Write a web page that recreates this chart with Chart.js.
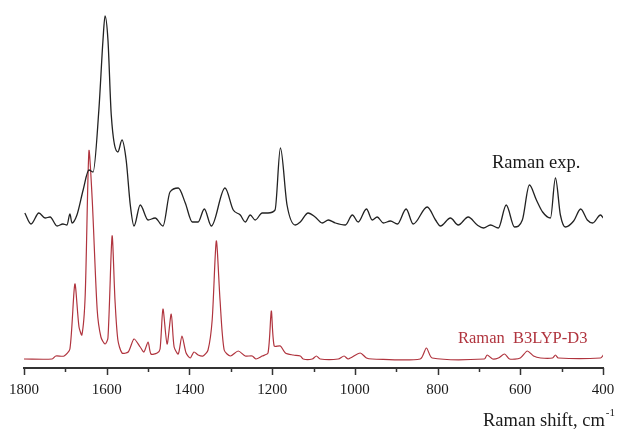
<!DOCTYPE html>
<html>
<head>
<meta charset="utf-8">
<script src="https://cdn.jsdelivr.net/npm/chart.js@4"></script>
<style>
  html, body { margin: 0; padding: 0; background: #fff; }
  #wrap { width: 617px; height: 429px; }
</style>
</head>
<body>
<div id="wrap"><canvas id="c"></canvas></div>
<script>
// experimental Raman spectrum (offset upward in the figure)
const expShift = [1798, 1783, 1764, 1749, 1737, 1720, 1706, 1696, 1689, 1684, 1672, 1657, 1643, 1633,
  1619, 1609, 1604, 1597, 1589, 1573, 1563, 1553, 1543, 1534, 1519, 1500, 1483, 1464, 1447, 1427,
  1410, 1393, 1379, 1364, 1347, 1314, 1294, 1277, 1265, 1253, 1241, 1224, 1210, 1193, 1180, 1164,
  1144, 1132, 1113, 1096, 1079, 1064, 1047, 1023, 1006, 992, 972, 958, 946, 931, 914, 897, 876, 859,
  825, 805, 793, 769, 750, 726, 704, 689, 672, 653, 634, 614, 595, 578, 561, 546, 527, 515, 503,
  491, 471, 454, 438, 425, 406, 399];
const expIntensity = [155, 144, 155, 150, 151, 142, 144, 143, 154, 145, 153, 178, 198, 196,
  258, 328, 352, 328, 253, 216, 228, 208, 163, 142, 163, 148, 150, 142, 176, 180,
  165, 146, 146, 159, 142, 180, 158, 153, 146, 153, 148, 155, 155, 158, 220, 163,
  143, 146, 155, 151, 145, 148, 145, 143, 153, 146, 159, 148, 151, 145, 147, 144, 159, 144,
  161, 148, 142, 150, 143, 151, 143, 140, 143, 140, 163, 141, 148, 183, 168, 156, 150, 190, 153,
  141, 147, 159, 148, 145, 153, 150];

// calculated Raman spectrum, B3LYP-D3
const calcShift = [1800, 1732, 1723, 1703, 1689, 1677, 1667, 1660, 1652, 1643, 1635, 1623, 1614, 1604,
  1597, 1587, 1580, 1573, 1563, 1548, 1534, 1519, 1510, 1500, 1493, 1478, 1471, 1464, 1454, 1444,
  1437, 1427, 1418, 1408, 1398, 1389, 1379, 1367, 1355, 1345, 1335, 1326, 1316, 1301, 1282, 1265,
  1248, 1239, 1224, 1210, 1202, 1195, 1180, 1168, 1149, 1132, 1125, 1103, 1093, 1084, 1040, 1026,
  1016, 987, 972, 958, 842, 827, 813, 687, 680, 667, 653, 638, 626, 600, 583, 568, 551, 522, 515,
  508, 406, 399];
const calcIntensity = [9, 9, 12, 12, 19, 84, 41, 33, 73, 217, 168, 58, 31, 24,
  30, 132, 68, 28, 15, 16, 29, 21, 16, 26, 14, 15, 19, 59, 24, 54,
  21, 14, 32, 15, 10, 16, 13, 12, 18, 48, 127, 68, 18, 12, 17, 12,
  12, 9, 12, 15, 57, 22, 22, 15, 13, 12, 9, 9, 12, 9, 9, 12,
  9, 15, 10, 9, 9, 20, 10, 9, 13, 9, 10, 14, 9, 10, 17, 12, 10, 10, 13,
  10, 10, 13];

const xTicks = [1800, 1600, 1400, 1200, 1000, 800, 600, 400];

const toPoints = (xs, ys) => xs.map((x, i) => ({ x: x, y: ys[i] }));

const serif = '"Liberation Serif", "DejaVu Serif", serif';

// tick marks (long at labelled values, short in between), and the text labels
const decorations = {
  id: 'decorations',
  afterDraw(chart) {
    const ctx = chart.ctx;
    const xs = chart.scales.x;
    const bottom = chart.chartArea.bottom;
    ctx.save();
    ctx.strokeStyle = '#333';
    ctx.lineWidth = 1.5;
    for (let v = 400; v <= 1800; v += 100) {
      const px = Math.round(xs.getPixelForValue(v)) + 0.5;
      const len = xTicks.includes(v) ? 7 : 4;
      ctx.beginPath();
      ctx.moveTo(px, bottom);
      ctx.lineTo(px, bottom + len);
      ctx.stroke();
    }
    ctx.textBaseline = 'middle';
    ctx.textAlign = 'left';
    ctx.fillStyle = '#1a1a1a';
    ctx.font = '18.5px ' + serif;
    ctx.fillText('Raman exp.', 492, 163);
    ctx.fillStyle = '#b0343e';
    ctx.font = '16.5px ' + serif;
    ctx.fillText('Raman  B3LYP-D3', 458, 339);
    ctx.fillStyle = '#1a1a1a';
    ctx.font = '18.5px ' + serif;
    ctx.textBaseline = 'alphabetic';
    ctx.fillText('Raman shift, cm', 483, 426);
    const w = ctx.measureText('Raman shift, cm').width;
    ctx.font = '11px ' + serif;
    ctx.fillText('-1', 483 + w + 1, 416);
    ctx.restore();
  }
};

new Chart(document.getElementById('c'), {
  type: 'line',
  data: {
    datasets: [
      {
        label: 'Raman exp.',
        data: toPoints(expShift, expIntensity),
        borderColor: '#222',
        borderWidth: 1.3,
        pointRadius: 0,
        tension: 0.4,
        cubicInterpolationMode: 'monotone',
        fill: false
      },
      {
        label: 'Raman B3LYP-D3',
        data: toPoints(calcShift, calcIntensity),
        borderColor: '#b0343e',
        borderWidth: 1.2,
        pointRadius: 0,
        tension: 0.25,
        fill: false
      }
    ]
  },
  options: {
    responsive: true,
    maintainAspectRatio: false,
    animation: false,
    layout: { padding: { left: 24, right: 14, top: 10, bottom: 0 } },
    plugins: {
      legend: { display: false },
      tooltip: { enabled: false }
    },
    scales: {
      x: {
        type: 'linear',
        reverse: true,
        min: 400,
        max: 1800,
        afterFit: (s) => {
          s.height = 61;
          s.paddingLeft = 0;
          s.paddingRight = 0;
        },
        afterBuildTicks: (s) => { s.ticks = xTicks.map(v => ({ value: v })); },
        grid: { display: false },
        border: { display: true, color: '#333', width: 2 },
        ticks: {
          color: '#1a1a1a',
          font: { family: serif, size: 15 },
          padding: 5,
          maxRotation: 0,
          autoSkip: false,
          callback: (v) => String(v)
        }
      },
      y: {
        display: false,
        min: 0,
        max: 358
      }
    }
  },
  plugins: [decorations]
});
</script>
</body>
</html>
